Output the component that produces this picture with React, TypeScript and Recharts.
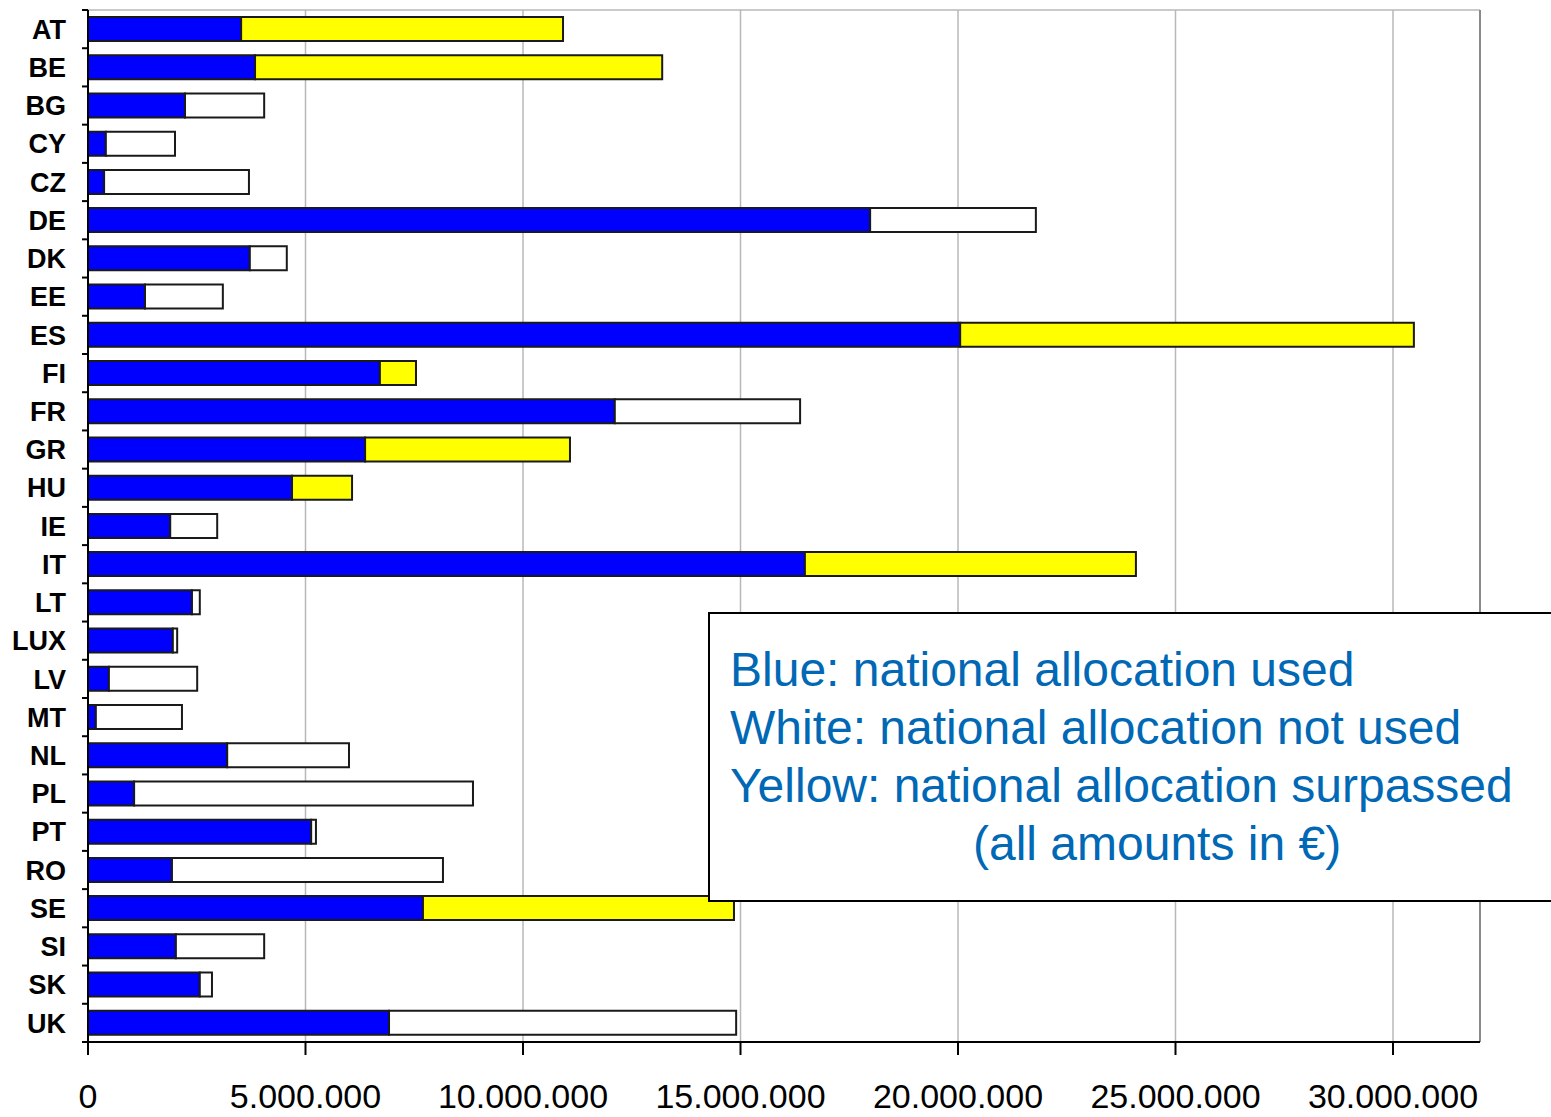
import React from "react";
import { BarChart, Bar, XAxis, YAxis, CartesianGrid, ReferenceLine } from "recharts";

// country codes, top to bottom
const countries = ["AT", "BE", "BG", "CY", "CZ", "DE", "DK", "EE", "ES", "FI", "FR", "GR", "HU", "IE", "IT", "LT", "LUX", "LV", "MT", "NL", "PL", "PT", "RO", "SE", "SI", "SK", "UK"];
// blue: national allocation used
const usedAmounts = [3520000, 3840000, 2230000, 410000, 370000, 17980000, 3720000, 1310000, 20050000, 6710000, 12110000, 6370000, 4690000, 1890000, 16480000, 2390000, 1950000, 480000, 180000, 3200000, 1060000, 5130000, 1930000, 7700000, 2020000, 2570000, 6920000];
// white: national allocation not used
const notUsedAmounts = [0, 0, 1820000, 1590000, 3330000, 3810000, 850000, 1790000, 0, 0, 4260000, 0, 0, 1080000, 0, 180000, 100000, 2030000, 1980000, 2800000, 7790000, 110000, 6230000, 0, 2030000, 280000, 7980000];
// yellow: national allocation surpassed
const surpassedAmounts = [7400000, 9360000, 0, 0, 0, 0, 0, 0, 10430000, 830000, 0, 4710000, 1380000, 0, 7610000, 0, 0, 0, 0, 0, 0, 0, 0, 7150000, 0, 0, 0];
const xTicks = [0, 5000000, 10000000, 15000000, 20000000, 25000000, 30000000];
const xMax = 32000000;

const legendLines = ["Blue: national allocation used", "White: national allocation not used", "Yellow: national allocation surpassed"];
const legendNote = "(all amounts in €)";

const data = countries.map((c, i) => ({
  name: c,
  used: usedAmounts[i],
  notUsed: notUsedAmounts[i],
  surpassed: surpassedAmounts[i],
}));

const FONT = "Arial, 'Liberation Sans', Helvetica, sans-serif";
const fmt = (v: number) => String(v).replace(/\B(?=(\d{3})+(?!\d))/g, ".");

const BAND = (1042 - 10) / countries.length;

function CountryTick(props: any) {
  const { x, y, payload, index } = props;
  return (
    <g>
      <line x1={x - 6} x2={x} y1={y - BAND / 2} y2={y - BAND / 2} stroke="#000" strokeWidth={2} />
      {index === countries.length - 1 && (
        <line x1={x - 6} x2={x} y1={y + BAND / 2} y2={y + BAND / 2} stroke="#000" strokeWidth={2} />
      )}
      <text x={x - 22} y={y} dy="0.36em" textAnchor="end" fontFamily={FONT} fontWeight="bold" fontSize={27} fill="#000">
        {payload.value}
      </text>
    </g>
  );
}

export default function App() {
  return (
    <div style={{ position: "absolute", left: 0, top: 0, width: 1551, height: 1117, background: "#fff", overflow: "hidden" }}>
      <BarChart
        layout="vertical"
        width={1551}
        height={1117}
        data={data}
        margin={{ top: 10, right: 71, bottom: 0, left: 0 }}
        barSize={24}
      >
        <CartesianGrid
          stroke="#b8b8b8"
          strokeWidth={1.5}
          horizontalCoordinatesGenerator={({ offset }: any) => [offset.top]}
        />
        <XAxis
          type="number"
          domain={[0, xMax]}
          ticks={xTicks}
          allowDataOverflow
          height={75}
          tickFormatter={fmt}
          tickSize={13}
          tickMargin={29}
          tickLine={{ stroke: "#000", strokeWidth: 2 }}
          axisLine={{ stroke: "#000", strokeWidth: 2 }}
          tick={{ fontSize: 34, fill: "#000", fontFamily: FONT }}
        />
        <YAxis
          type="category"
          dataKey="name"
          width={88}
          tickSize={0}
          tickMargin={0}
          tickLine={false}
          axisLine={{ stroke: "#000", strokeWidth: 2 }}
          tick={<CountryTick />}
          interval={0}
        />
        <ReferenceLine x={xMax} stroke="#8a8a8a" strokeWidth={2} />
        <Bar dataKey="used" stackId="a" fill="#0000ff" stroke="#1a1a1a" strokeWidth={2} isAnimationActive={false} />
        <Bar dataKey="notUsed" stackId="a" fill="#ffffff" stroke="#1a1a1a" strokeWidth={2} isAnimationActive={false} />
        <Bar dataKey="surpassed" stackId="a" fill="#ffff00" stroke="#1a1a1a" strokeWidth={2} isAnimationActive={false} />
      </BarChart>
      <div
        style={{
          position: "absolute",
          left: 708,
          top: 612,
          width: 1551 - 708 - 2,
          height: 286,
          border: "2px solid #000",
          borderRight: "none",
          background: "#fff",
          fontFamily: FONT,
          fontSize: 48,
          color: "#0068b5",
          lineHeight: "58px",
          boxSizing: "content-box",
        }}
      >
        <div style={{ paddingTop: 27, paddingLeft: 20, whiteSpace: "nowrap" }}>
          {legendLines.map((l) => (
            <div key={l}>{l}</div>
          ))}
          <div style={{ paddingLeft: 243 }}>{legendNote}</div>
        </div>
      </div>
    </div>
  );
}
